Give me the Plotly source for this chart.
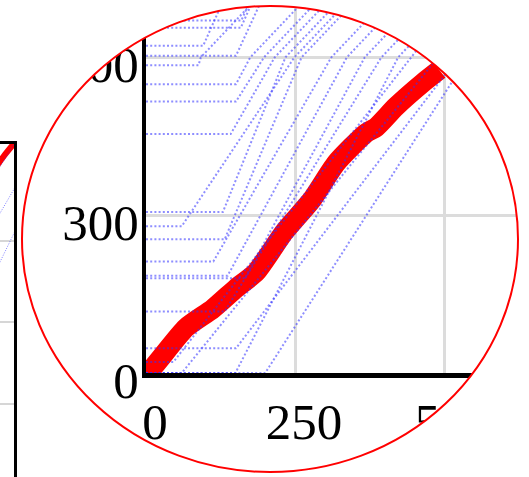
import numpy as np
import plotly.graph_objects as go

W, H = 529, 477

# ---- data ----
# thick red mean line
red_x = [0, 11, 67, 112, 151, 185, 232, 278, 319, 369, 386, 419, 464, 492]
red_y = [0, 10, 86, 122, 161, 192, 268, 329, 399, 456, 467, 506, 551, 576]

# faint blue dotted paths: flat at a level until plateau_end, then rising
plateau_level = [670, 656, 622, 603, 585, 549, 516, 454, 306, 279, 254, 212, 185, 180, 117, 47, 21, 0, 0, 0]
plateau_end   = [160, 159, 96, 151, 88, 151, 151, 142, 129, 60, 132, 113, 137, 166, 132, 151, 46, 60, 150, 200]
cross600_x    = [None, None, None, None, 92, 175, 198, 216, 234, 249, 261, 311, 337, 367, 395, 524, 445, 490, 423, 540]
top_x         = [195, 200, 150, 215, 226, 309, 332, 350, 368, 383, 395, 445, 471, 501, 529, 632, 555, 606, 557, 650]
level_mid, level_top = 600, 760

x_ticks = [0, 250, 500]
y_ticks = [0, 300, 600]
main_y_grid = [200, 300, 400]

fig = go.Figure()

def blue_paths():
    out = []
    for h, xe, xc, xt in zip(plateau_level, plateau_end, cross600_x, top_x):
        xs, ys = [0, xe], [h, h]
        if xc is not None:
            xs.append(xc); ys.append(level_mid)
        xs.append(xt); ys.append(level_top)
        out.append((xs, ys))
    return out

paths = blue_paths()

# main (small) chart, mostly off-screen to the left
fig.add_trace(go.Scatter(x=red_x, y=red_y, mode='lines',
                         line=dict(color='#ff0000', width=6, shape='spline', smoothing=0.6),
                         xaxis='x', yaxis='y', hoverinfo='skip', showlegend=False))
for xs, ys in paths:
    fig.add_trace(go.Scatter(x=xs, y=ys, mode='lines',
                             line=dict(color='rgba(40,40,255,0.6)', width=1, dash='1px,1.5px'),
                             xaxis='x', yaxis='y', hoverinfo='skip', showlegend=False))

# magnified inset
fig.add_trace(go.Scatter(x=red_x, y=red_y, mode='lines',
                         line=dict(color='#ff0000', width=20, shape='spline', smoothing=0.6),
                         xaxis='x2', yaxis='y2', hoverinfo='skip', showlegend=False))
for xs, ys in paths:
    fig.add_trace(go.Scatter(x=xs, y=ys, mode='lines',
                             line=dict(color='rgba(50,50,255,0.55)', width=2, dash='2px,2.2px'),
                             xaxis='x2', yaxis='y2', hoverinfo='skip', showlegend=False))

tickfont = dict(family='Liberation Serif', size=51, color='black')

fig.update_layout(
    template='none',
    width=W, height=H, margin=dict(l=0, r=0, t=0, b=0, pad=0, autoexpand=False),
    paper_bgcolor='white', plot_bgcolor='white', showlegend=False,
    xaxis=dict(domain=[0, 14 / W], range=[412, 432], anchor='y', showgrid=False, zeroline=False,
               showline=True, mirror=True, linecolor='black', linewidth=3,
               showticklabels=False, ticks='', automargin=False),
    yaxis=dict(domain=[0, 1 - 144 / H], range=[110, 519], anchor='x', tickvals=main_y_grid,
               showgrid=True, gridcolor='#d6d6d6', gridwidth=2, zeroline=False,
               showline=True, mirror=True, linecolor='black', linewidth=3,
               showticklabels=False, ticks='', automargin=False),
    xaxis2=dict(domain=[146 / W, 1], range=[0, 642.6], anchor='y2', tickvals=x_ticks,
                showgrid=True, gridcolor='#dcdcdc', gridwidth=2.5, zeroline=False,
                showline=True, linecolor='black', linewidth=5, ticks='',
                tickfont=tickfont, ticklabelshift=9, ticklabelstandoff=0, automargin=False),
    yaxis2=dict(domain=[1 - 373 / H, 1], range=[0, 708.9], anchor='x2', tickvals=y_ticks,
                showgrid=True, gridcolor='#dcdcdc', gridwidth=2.5, zeroline=False,
                showline=True, linecolor='black', linewidth=4, ticks='',
                tickfont=tickfont, ticklabelshift=7, ticklabelstandoff=-7, automargin=False),
)

# circular magnifier: white mask outside the ellipse, red outline
cx, cy, rx, ry = 270, 239, 248, 233
t = np.linspace(0, 2 * np.pi, 240, endpoint=False)
ex = (cx + rx * np.cos(t)) / W
ey = 1 - (cy + ry * np.sin(t)) / H
x0, x1, y0, y1 = 18 / W, 1.0, 0.0, 1.0
path = f"M{x0},{y0} L{x1},{y0} L{x1},{y1} L{x0},{y1} Z "
path += "M" + " L".join(f"{a:.5f},{b:.5f}" for a, b in zip(ex[::-1], ey[::-1])) + " Z"

fig.add_shape(type='path', path=path, xref='paper', yref='paper', layer='above',
              fillcolor='white', line=dict(width=0))
fig.add_shape(type='circle', xref='paper', yref='paper', layer='above',
              x0=(cx - rx) / W, x1=(cx + rx) / W, y0=1 - (cy + ry) / H, y1=1 - (cy - ry) / H,
              line=dict(color='#ff0000', width=2), fillcolor='rgba(0,0,0,0)')

fig.write_html("out.html")
